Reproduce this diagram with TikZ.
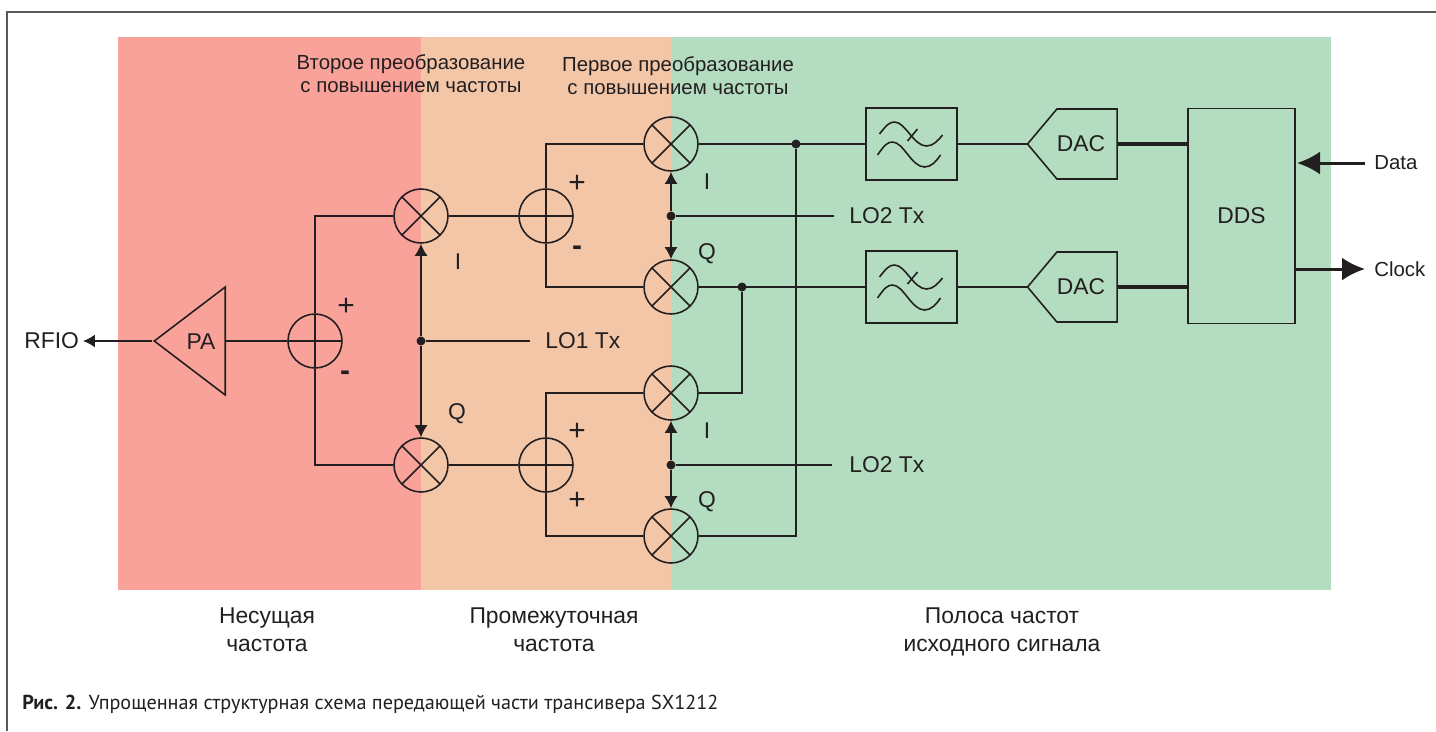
\documentclass[tikz,border=0pt]{standalone}
\usepackage{fontspec}
\setmainfont{Liberation Sans}
\newfontfamily\capfont{PT Sans}
\usetikzlibrary{arrows.meta}
\usetikzlibrary{shapes.geometric}
\usetikzlibrary{shapes.symbols}
\definecolor{bandred}{HTML}{F8A29A}
\definecolor{bandorange}{HTML}{F4C6A8}
\definecolor{bandgreen}{HTML}{B3DCC1}
\definecolor{inkblack}{HTML}{231F20}
\tikzset{
	wire/.style={draw=inkblack, line width=0.9pt},
	bus/.style={draw=inkblack, line width=2.6pt},
	lotip/.style={wire, -{Latex[length=2.4mm,width=2.6mm]}},
	iotip/.style={draw=inkblack, line width=1.7pt, -{Latex[length=4.6mm,width=4.6mm]}},
	mixer/.style={circle, wire, inner sep=0pt, minimum size=1.08cm, path picture={
		\draw[wire] (path picture bounding box.north west) -- (path picture bounding box.south east);
		\draw[wire] (path picture bounding box.south west) -- (path picture bounding box.north east);}},
	adder/.style={circle, wire, inner sep=0pt, minimum size=1.08cm, path picture={
		\draw[wire] (path picture bounding box.north) -- (path picture bounding box.south);
		\draw[wire] (path picture bounding box.west) -- (path picture bounding box.east);}},
	filterbox/.style={rectangle, wire, inner sep=0pt, minimum width=1.82cm, minimum height=1.44cm, path picture={
		\begin{scope}[shift={(path picture bounding box.center)}]
			\draw[wire] (-32,-10) .. controls (-25,-19) and (-22,-22) .. (-17,-22) .. controls (-6,-22) and (2,2) .. (15,2) .. controls (22,2) and (27,-4) .. (31,-9);
			\draw[wire] (-34,11) .. controls (-27,1) and (-24,-2) .. (-19,-2) .. controls (-8,-2) and (0,23) .. (13,23) .. controls (20,23) and (25,17) .. (29,11);
			\draw[wire] (-4,-3) -- (6,-15);
		\end{scope}}},
	dacbox/.style={signal, signal to=west, signal pointer angle=100, wire, inner sep=0pt, minimum width=1.78cm, minimum height=1.4cm, font=\fontsize{13}{16}\selectfont, text=inkblack},
	junction/.style={circle, fill=inkblack, inner sep=0pt, minimum size=0.18cm},
	label/.style={font=\fontsize{13}{16}\selectfont, text=inkblack, inner sep=0pt},
	smalllabel/.style={font=\fontsize{11.6}{13}\selectfont, text=inkblack, inner sep=0pt},
	band/.style={label, align=center},
	sign/.style={font=\fontsize{17}{17}\selectfont, text=inkblack, inner sep=0pt},
}
\begin{document}
\begin{tikzpicture}[x=0.02cm, y=-0.02cm]
	\useasboundingbox (0,0) rectangle (1436,731);
	\fill[white] (0,0) rectangle (1436,731);
	\draw[black!65, line width=0.8pt] (1436,12) -- (7,12) -- (7,731);

	\fill[bandred] (118,37) rectangle (421,590);
	\fill[bandorange] (421,37) rectangle (671,590);
	\fill[bandgreen] (671,37) rectangle (1331,590);

	% mixers and adders
	\node[mixer] (mix1) at (421,216) {};
	\node[mixer] (mix2) at (421,465) {};
	\node[mixer] (mix3) at (671,144) {};
	\node[mixer] (mix4) at (671,287) {};
	\node[mixer] (mix5) at (671,393) {};
	\node[mixer] (mix6) at (671,536) {};
	\node[adder] (add1) at (315,341) {};
	\node[adder] (add2) at (546,216) {};
	\node[adder] (add3) at (546,465) {};

	\node[isosceles triangle, isosceles triangle stretches, shape border rotate=180, wire, inner sep=0pt, minimum width=2.16cm, minimum height=1.42cm] (pa) at (198.5,341) {};
	\node[label] (palabel) at (201,342) {PA};

	\node[filterbox] (filt1) at (911.5,144) {};
	\node[filterbox] (filt2) at (911.5,287) {};
	\node[dacbox] (dac1) at (1087,144) {DAC\kern 0.24cm};
	\node[dacbox] (dac2) at (1087,287) {DAC\kern 0.24cm};
	\node[rectangle, wire, inner sep=0pt, minimum width=2.14cm, minimum height=4.3cm, font=\fontsize{13}{16}\selectfont, text=inkblack] (dds) at (1241.5,216) {DDS};

	\node[junction] (lo1) at (421,341) {};
	\node[junction] (lo2) at (671,216) {};
	\node[junction] (lo3) at (671,465) {};
	\node[junction] (tap1) at (796,144) {};
	\node[junction] (tap2) at (742,287) {};

	% outer labels
	\node[label, anchor=west] (rfio) at (24,341) {RFIO};
	\node[label, anchor=west] (lotx1) at (545,341) {LO1 Tx};
	\node[label, anchor=west] (lotx2) at (849,216) {LO2 Tx};
	\node[label, anchor=west] (lotx3) at (849,465) {LO2 Tx};
	\node[smalllabel, anchor=west] (data) at (1374,163) {Data};
	\node[smalllabel, anchor=west] (clock) at (1374,269) {Clock};
	\coordinate (dataend) at (1297,163);
	\coordinate (clockend) at (1365,269);
	\coordinate (datastart) at (1365,163);
	\coordinate (clockstart) at (1295,269);

	% connectors
	\draw[wire, -{Latex[length=2.4mm,width=2.6mm]}] (pa.west) -- (rfio.east -| 83,341);
	\draw[wire] (add1.west) -- (pa.east |- add1.west);
	\draw[wire] (mix1.west) -| (add1.north);
	\draw[wire] (add1.south) |- (mix2.west);
	\draw[wire] (mix1.east) -- (add2.west);
	\draw[wire] (mix2.east) -- (add3.west);
	\draw[wire] (add2.north) |- (mix3.west);
	\draw[wire] (add2.south) |- (mix4.west);
	\draw[wire] (add3.north) |- (mix5.west);
	\draw[wire] (add3.south) |- (mix6.west);
	\draw[wire] (mix3.east) -- (filt1.west);
	\draw[wire] (mix4.east) -- (filt2.west);
	\draw[wire] (filt1.east) -- (dac1.west);
	\draw[wire] (filt2.east) -- (dac2.west);
	\draw[wire] (tap1) |- (mix6.east);
	\draw[wire] (tap2) |- (mix5.east);
	\draw[bus] (dac1.east) -- (dds.west |- dac1.east);
	\draw[bus] (dac2.east) -- (dds.west |- dac2.east);
	\draw[iotip] (datastart) -- (dataend);
	\draw[iotip] (clockstart) -- (clockend);

	\draw[lotip] (lo1) -- (mix1.south);
	\draw[lotip] (lo1) -- (mix2.north);
	\draw[lotip] (lo2) -- (mix3.south);
	\draw[lotip] (lo2) -- (mix4.north);
	\draw[lotip] (lo3) -- (mix5.south);
	\draw[lotip] (lo3) -- (mix6.north);
	\draw[wire] (lo1) -- (lotx1.west -| 530,341);
	\draw[wire] (lo2) -- (lotx2.west -| 834,216);
	\draw[wire] (lo3) -- (lotx3.west -| 832,465);

	% I, Q and signs
	\node[label] (i1) at (458,262) {I};
	\node[label] (q1) at (457,414) {Q};
	\node[label] (i2) at (707,182) {I};
	\node[label] (q2) at (707,254) {Q};
	\node[label] (i3) at (707,431) {I};
	\node[label] (q3) at (707,502) {Q};
	\node[sign] (p1) at (346,307) {+};
	\node[sign] (m1) at (345,376) {\bfseries -};
	\node[sign] (p2) at (577,184) {+};
	\node[sign] (m2) at (577,251) {\bfseries -};
	\node[sign] (p3) at (577,432) {+};
	\node[sign] (p4) at (577,501) {+};

	% band captions
	\node[smalllabel, align=center] (conv2) at (411,74) {Второе преобразование\\с повышением частоты};
	\node[smalllabel, align=center] (conv1) at (678,76) {Первое преобразование\\с повышением частоты};
	\node[band] (rfband) at (267,630) {Несущая\\частота};
	\node[band] (ifband) at (554,630) {Промежуточная\\частота};
	\node[band] (bbband) at (1002,632) {Полоса частот\\исходного сигнала};
	\node[anchor=west, inner sep=0pt, text=inkblack, font=\capfont\fontsize{11.5}{13}\selectfont] (caption) at (22,704) {\textbf{Рис. 2.} Упрощенная структурная схема передающей части трансивера SX1212};
\end{tikzpicture}
\end{document}
